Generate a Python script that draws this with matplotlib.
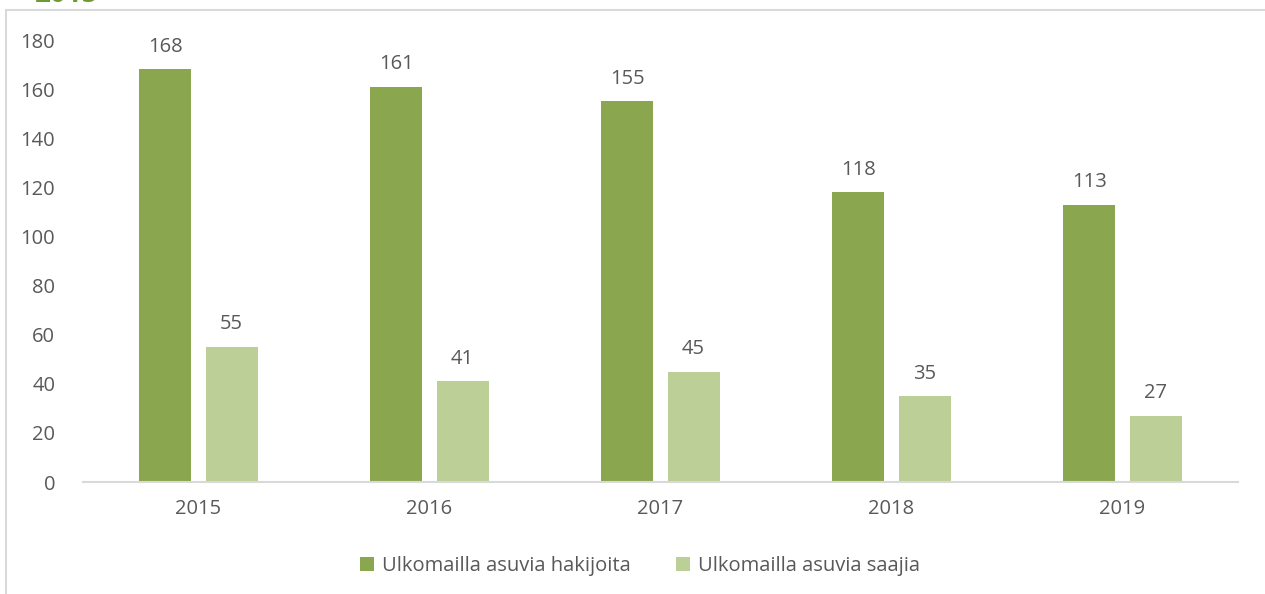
import matplotlib.pyplot as plt
import numpy as np
from matplotlib.patches import Rectangle

plt.rcParams['font.family'] = ['Open Sans', 'DejaVu Sans']

years = ['2015', '2016', '2017', '2018', '2019']
hakijoita = [168, 161, 155, 118, 113]
saajia = [55, 41, 45, 35, 27]

dark_green = '#8AA64F'
light_green = '#BBCF97'
text_grey = '#595959'

fig = plt.figure(figsize=(12.65, 5.94), dpi=100)

# frame of the chart area (runs off the right and bottom edge)
fig.patches.append(Rectangle((6, -20), 1300, 604, transform=None,
                             fill=False, edgecolor='#D9D9D9', linewidth=1.5))
# title sits above the frame, only its lower edge shows
fig.text(35 / 1265, 1 - 2 / 594, '2015', color='#6E9A34', fontsize=20,
         fontweight='bold', ha='left', va='baseline')

ax = fig.add_axes([83 / 1265, 1 - 482 / 594, (1238 - 83) / 1265, (482 - 40) / 594])

x = np.arange(len(years))
w = 0.225
off = 0.143
b1 = ax.bar(x - off, hakijoita, w, color=dark_green, label='Ulkomailla asuvia hakijoita')
b2 = ax.bar(x + off, saajia, w, color=light_green, label='Ulkomailla asuvia saajia')

for bars, vals in ((b1, hakijoita), (b2, saajia)):
    for bar, v in zip(bars, vals):
        ax.annotate(str(v), (bar.get_x() + bar.get_width() / 2, v),
                    xytext=(0, 9), textcoords='offset points',
                    ha='center', va='bottom', fontsize=14.5, color=text_grey)

ax.set_xlim(-0.5, len(years) - 0.5)
ax.set_ylim(0, 180)
ax.set_yticks(range(0, 181, 20))
ax.set_xticks(x)
ax.set_xticklabels(years)
ax.tick_params(axis='both', length=0, labelsize=14.5, colors=text_grey)
ax.tick_params(axis='y', pad=20)
ax.tick_params(axis='x', pad=12)
for s in ('top', 'right', 'left'):
    ax.spines[s].set_visible(False)
ax.spines['bottom'].set_color('#D9D9D9')
ax.spines['bottom'].set_linewidth(1.5)

fig.legend(handles=[b1, b2], loc='center', bbox_to_anchor=(640 / 1265, 1 - 566 / 594),
           ncol=2, frameon=False, fontsize=14.5, labelcolor=text_grey,
           handlelength=0.7, handleheight=0.7, handletextpad=0.4, columnspacing=2.2)

fig.savefig('out.png', dpi=100)
